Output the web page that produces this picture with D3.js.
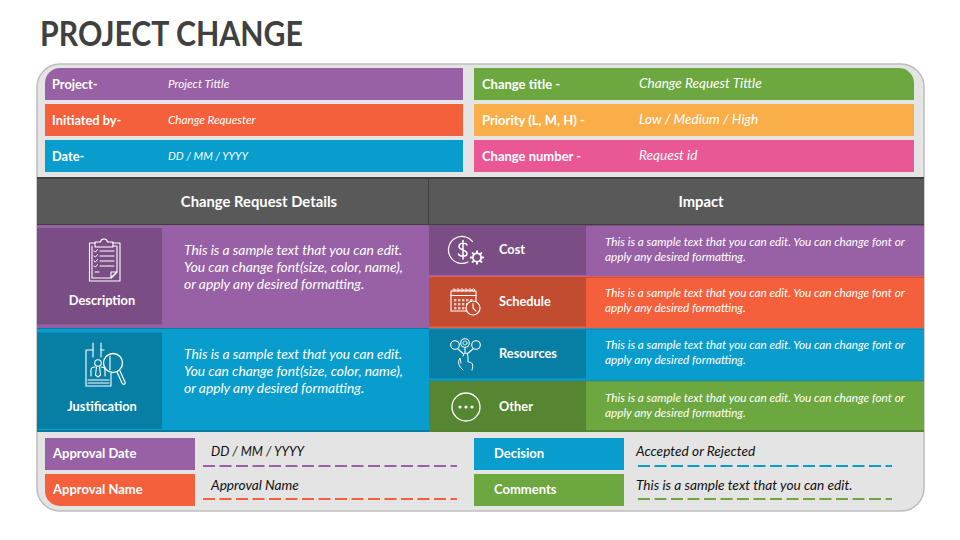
<!DOCTYPE html>
<html>
<head>
<meta charset="utf-8">
<title>Project Change</title>
<script src="https://cdn.jsdelivr.net/npm/d3@7"></script>
<style>
  html, body { margin: 0; padding: 0; background: #fff; }
  svg { display: block; }
  text { font-family: Lato, "Open Sans", sans-serif; fill: #fff; }
  .bold { font-weight: 700; }
  .ital { font-style: italic; }
</style>
</head>
<body>
<div id="chart"></div>
<script>
// content
var chartTitle = "PROJECT CHANGE";
var leftLabels = ["Project-", "Initiated by-", "Date-"];
var leftValues = ["Project Tittle", "Change Requester", "DD / MM / YYYY"];
var rightLabels = ["Change title -", "Priority (L, M, H) -", "Change number -"];
var rightValues = ["Change Request Tittle", "Low / Medium / High", "Request id"];
var headers = ["Change Request Details", "Impact"];
var detailNames = ["Description", "Justification"];
var detailLines = ["This is a sample text that you can edit.", "You can change font(size, color, name),", "or apply any desired formatting."];
var impactNames = ["Cost", "Schedule", "Resources", "Other"];
var impactLines = ["This is a sample text that you can edit. You can change font or", "apply any desired formatting."];
var approvalLeft = ["Approval Date", "Approval Name"];
var approvalLeftValues = ["DD / MM / YYYY", "Approval Name"];
var approvalRight = ["Decision", "Comments"];
var approvalRightValues = ["Accepted or Rejected", "This is a sample text that you can edit."];

// colours
var purple = "#9861a6", orange = "#f45f3c", blue = "#099dcd", green = "#6ca83f", amber = "#faae49", pink = "#e95794";
var purpleDark = "#7a4e85", orangeDark = "#c24c30", blueDark = "#077ea4", greenDark = "#568632";

var svg = d3.select("#chart").append("svg").attr("width", 960).attr("height", 540);

// top and bottom row scales
var topY = d3.scaleBand().domain(d3.range(3)).range([68, 172]).paddingInner(1 / 9);
var approvalY = d3.scaleBand().domain(d3.range(2)).range([438, 506]).paddingInner(1 / 9);
var impactY = d3.scaleBand().domain(impactNames).range([225, 432]);
var detailY = d3.scaleBand().domain(detailNames).range([225, 432]);

// rect with per corner radius [tl, tr, br, bl]
function roundRect(x, y, w, h, r) {
  var p = d3.path();
  p.moveTo(x + r[0], y);
  p.lineTo(x + w - r[1], y);
  if (r[1]) p.arcTo(x + w, y, x + w, y + r[1], r[1]);
  p.lineTo(x + w, y + h - r[2]);
  if (r[2]) p.arcTo(x + w, y + h, x + w - r[2], y + h, r[2]);
  p.lineTo(x + r[3], y + h);
  if (r[3]) p.arcTo(x, y + h, x, y + h - r[3], r[3]);
  p.lineTo(x, y + r[0]);
  if (r[0]) p.arcTo(x, y, x + r[0], y, r[0]);
  p.closePath();
  return p.toString();
}
function box(g, x, y, w, h, fill, r) {
  return g.append("path").attr("d", roundRect(x, y, w, h, r || [0, 0, 0, 0])).attr("fill", fill);
}
function label(g, str, x, y, size, cls, anchor, color) {
  return g.append("text").attr("x", x).attr("y", y).attr("font-size", size)
    .attr("class", cls).attr("text-anchor", anchor || "start")
    .style("fill", color || "#fff").text(str);
}
// Lato runs wider on capitals than the original face, squeeze those strings
function squeeze(t, w) {
  return t.attr("textLength", w).attr("lengthAdjust", "spacingAndGlyphs");
}

// title
squeeze(label(svg, chartTitle, 40, 46, 33.4, "bold", "start", "#404040"), 263);

// outer panel
svg.append("rect").attr("x", 37).attr("y", 64).attr("width", 887).attr("height", 447).attr("rx", 23)
  .attr("fill", "#e4e4e4").attr("stroke", "#bdbdbd").attr("stroke-width", 1.5);

// header block rows
var topColors = [[purple, orange, blue], [green, amber, pink]];
leftLabels.forEach(function (d, i) {
  box(svg, 45, topY(i), 418, topY.bandwidth(), topColors[0][i], i === 0 ? [15, 0, 0, 0] : null);
  label(svg, d, 52, topY(i) + 21, 12.8, "bold");
  var v = label(svg, leftValues[i], 168, topY(i) + 20, 11.7, "ital");
  if (i === 2) squeeze(v, 80);
});
rightLabels.forEach(function (d, i) {
  box(svg, 474, topY(i), 440, topY.bandwidth(), topColors[1][i], i === 0 ? [0, 15, 0, 0] : null);
  label(svg, d, 482, topY(i) + 21, 13, "bold");
  label(svg, rightValues[i], 639, topY(i) + 20, 13.6, "ital");
});

// dark section heading
box(svg, 37, 178, 887, 47, "#595959");
svg.append("rect").attr("x", 37).attr("y", 177).attr("width", 887).attr("height", 2).attr("fill", "#3f3f3f");
svg.append("rect").attr("x", 37).attr("y", 224).attr("width", 887).attr("height", 1).attr("fill", "#3f3f3f");
svg.append("rect").attr("x", 428).attr("y", 178).attr("width", 1).attr("height", 47).attr("fill", "#3f3f3f");
label(svg, headers[0], 259, 206.5, 14.8, "bold", "middle");
label(svg, headers[1], 701, 206.5, 14.8, "bold", "middle");

// change request details, left
var detailColors = [purple, blue], detailDark = [purpleDark, blueDark], detailTop = [255, 359];
detailNames.forEach(function (d, i) {
  var y = detailY(d), h = detailY.bandwidth();
  box(svg, 37, y, 392, h, detailColors[i]);
  box(svg, 37, y + 3 + i * 1, 125, h - 7, detailDark[i]);
  label(svg, d, 102, y + 80 + i * 2, 12.8, "bold", "middle");
  detailLines.forEach(function (t, j) {
    label(svg, t, 184, detailTop[i] + j * 17, 13.8, "ital");
  });
});

// impact rows, right
var impactColors = [purple, orange, blue, green], impactDark = [purpleDark, orangeDark, blueDark, greenDark];
var impactEdge = ["#7a4e85", "#e03d1c", "#077ea4", "#077ea4"];
impactNames.forEach(function (d, i) {
  var y = impactY(d), h = impactY.bandwidth();
  var shift = i === 3 ? 1.5 : 0;
  box(svg, 429, y, 495, h, impactColors[i]);
  box(svg, 429, y + 1, 157, h - 3, impactDark[i]);
  svg.append("rect").attr("x", 429).attr("y", y).attr("width", 495).attr("height", 1).attr("fill", impactEdge[i]);
  label(svg, d, 499, y + 29 + shift, 12.8, "bold");
  impactLines.forEach(function (t, j) {
    label(svg, t, 605, y + 20.5 + shift + j * 15, 11.75, "ital");
  });
});
// lower shade of the band
svg.append("rect").attr("x", 37).attr("y", 430).attr("width", 887).attr("height", 2).attr("fill", "#000").attr("opacity", 0.22);
svg.append("rect").attr("x", 37).attr("y", 328).attr("width", 392).attr("height", 1).attr("fill", "#077ea4");

// approval rows
var approvalColors = [[purple, orange], [blue, green]];
var dashY = [466, 499];
approvalLeft.forEach(function (d, i) {
  box(svg, 45, approvalY(i), 150, approvalY.bandwidth(), approvalColors[0][i], i === 1 ? [0, 0, 0, 15] : null);
  label(svg, d, 53, approvalY(i) + 20, 13, "bold");
  var v = label(svg, approvalLeftValues[i], 211, [456, 490][i], 13.7, "ital", "start", "#111");
  if (i === 0) squeeze(v, 93);
  svg.append("line").attr("x1", 203).attr("x2", 457).attr("y1", dashY[i]).attr("y2", dashY[i])
    .attr("stroke", approvalColors[0][i]).attr("stroke-width", 2).attr("stroke-dasharray", "12 4.5");
});
approvalRight.forEach(function (d, i) {
  box(svg, 474, approvalY(i), 150, approvalY.bandwidth(), approvalColors[1][i]);
  label(svg, d, 494, approvalY(i) + 20, 13, "bold");
  label(svg, approvalRightValues[i], 636, [456, 490][i], 13.7, "ital", "start", "#111");
  svg.append("line").attr("x1", 638).attr("x2", 892).attr("y1", dashY[i]).attr("y2", dashY[i])
    .attr("stroke", approvalColors[1][i]).attr("stroke-width", 2).attr("stroke-dasharray", "12 4.5");
});

// icons, all drawn in white outline
var icons = svg.append("g").attr("fill", "none").attr("stroke", "#fff").attr("stroke-width", 1.1)
  .attr("stroke-linecap", "round").attr("stroke-linejoin", "round");
function line(d, w) { return icons.append("path").attr("d", d).attr("stroke-width", w || null); }
function ring(cx, cy, r, w) { return icons.append("circle").attr("cx", cx).attr("cy", cy).attr("r", r).attr("stroke-width", w || null); }
function gear(cx, cy, r) {
  var d = "";
  d3.range(8).forEach(function (k) {
    var a = k * Math.PI / 4;
    d += "M" + (cx + r * Math.cos(a)) + "," + (cy + r * Math.sin(a)) + "L" + (cx + (r + 2) * Math.cos(a)) + "," + (cy + (r + 2) * Math.sin(a));
  });
  line(d, 2);
  ring(cx, cy, r, 1.6);
}

// clipboard
line("M95,243H89.5V281H120V243H113");
line("M92,246V278H111L117,272V246H113");
line("M111,278V272H117L111,278Z");
line("M95,247V242H100.5C101,238 107,238 107.5,242H113V247Z");
[251, 256, 261, 266].forEach(function (y) {
  line("M94,"+y+"L95.5,"+(y+1)+"L97.5,"+(y-1.5), 0.9);
  line("M100,"+y+"H114");
});
line("M95,272H99");

// id card with magnifier
line("M93,350H86V386H111V373");
line("M101,350H104");
line("M93,343V357M101,343V357");
ring(98, 363, 3.3);
line("M91,376V370C91,368 93,367 95,367M105,376V370C105,368 103,367 101,367");
line("M96.5,367L95.5,375L98,377L100.5,375L99.5,367");
line("M88,380H109M88,383H109");
ring(113, 363, 9.5, 1.3);
line("M110,356V370");
line("M117,372L122,383C123.5,385.5 126,384 125,382L120,371", 1.2);

// dollar with gear
line("M472.5,241.5A13.5,13.5 0 1 0 468,262", 1.2);
line("M467,245C466,242.5 459,242.5 459,246.5C459,250.5 467,249.5 467,253.5C467,257 459.500,257 458.500,254M463,240.500V259", 1.5);
gear(477, 257.5, 4.2);

// calendar with clock
line("M451,291H476V302M466,311H451V291");
line("M451,295.500H476");
[454, 458, 462, 466, 470, 473.500].forEach(function (x) { ring(x, 290, 1.2, 0.8); });
var calXs = [454, 458, 462, 466, 470], calYs = [299, 303, 307];
calYs.forEach(function (y) { calXs.forEach(function (x) {
  icons.append("rect").attr("x", x).attr("y", y).attr("width", 2.4).attr("height", 2.4).attr("stroke", "none").attr("fill", "#fff").attr("opacity", 0.7);
}); });
icons.append("circle").attr("cx", 473).attr("cy", 308).attr("r", 7).attr("fill", orangeDark).attr("stroke-width", 1.2);
line("M473,303.500V308L476,311");

// hand with resources
ring(455, 345, 4.3); ring(465, 343, 4.3); ring(476, 345, 4.3);
ring(465, 343, 2, 0.8);
line("M458,349L463.500,354M465,347.500V353M473,349L467,354");
line("M463,370C459,366 457,363 460,358L461,363M463,356C464,352 467,352 468,356V362C472,362 474,364 472,370", 1);

// three dots
ring(466, 407, 14, 1.3);
[460, 466, 472].forEach(function (x) { icons.append("circle").attr("cx", x).attr("cy", 407).attr("r", 1.6).attr("fill", "#fff").attr("stroke", "none"); });
</script>
</body>
</html>
